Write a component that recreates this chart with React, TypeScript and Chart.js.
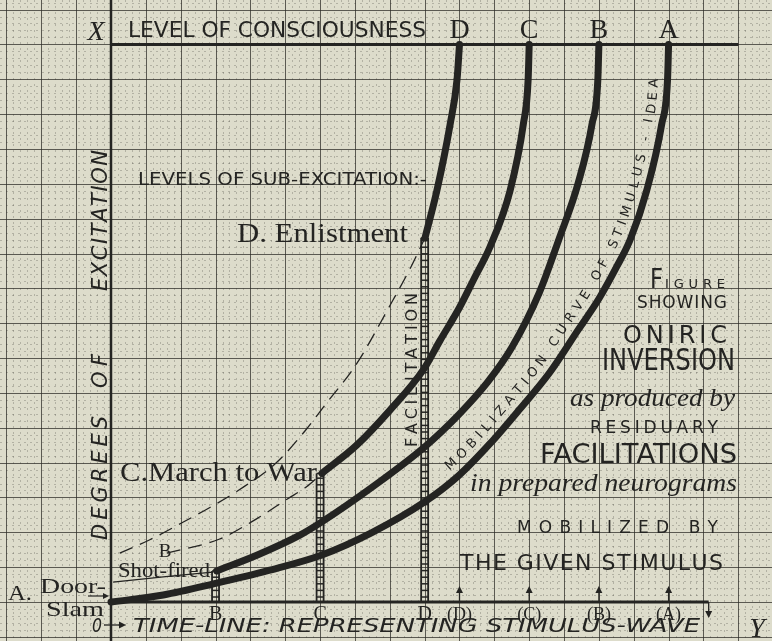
import React, { useEffect, useRef } from "react";
import { Chart, registerables } from "chart.js";

Chart.register(...registerables);

const W = 772;
const H = 641;
const INK = "#242422";
const PAPER = "#dddccb";
const SANS = "'DejaVu Sans', 'Liberation Sans', sans-serif";
const SERIF = "'Liberation Serif', 'DejaVu Serif', serif";

// grid units: one major square of the paper = 1
const xRange = [-3.185, 18.967];
const yRange = [-1.119, 17.274];
const consciousnessLevel = 16;
const topLineEnd = 18;
const timeLineEnd = 17.15;

// mobilization curves (time, excitation)
const curveA = [[0, 0], [1.5, 0.2], [3.03, 0.54], [4.5, 0.9], [6.05, 1.35], [7.5, 2.0], [9.01, 2.88], [10.0, 3.65], [10.88, 4.55], [11.7, 5.5], [12.6, 6.6], [13.4, 7.8], [14.0, 8.7], [14.5, 9.6], [14.9, 10.4], [15.37, 11.8], [15.8, 13.7], [15.97, 15.0], [16.0, 16.0]];
const curveB = [[3.03, 0.89], [4.2, 1.35], [5.42, 1.92], [6.05, 2.3], [7.5, 3.3], [9.01, 4.46], [10.0, 5.4], [10.8, 6.3], [11.5, 7.3], [12.3, 8.9], [12.85, 10.4], [13.4, 12.0], [13.8, 13.7], [13.97, 15.0], [14.0, 16.0]];
const curveC = [[6.05, 3.69], [7.05, 4.5], [8.0, 5.5], [8.96, 6.66], [9.44, 7.5], [10.0, 8.45], [10.4, 9.24], [10.88, 10.2], [11.45, 11.8], [11.83, 13.7], [11.97, 15.0], [12.0, 16.0]];
const curveD = [[9.01, 10.45], [9.35, 11.8], [9.73, 13.7], [9.93, 15.0], [10.0, 16.0]];
// dashed (unfacilitated) continuations
const dashedD = [[0.25, 1.4], [1.1, 1.78], [2.05, 2.28], [2.85, 2.72], [3.65, 3.2], [4.75, 4.0], [5.6, 4.95], [6.1, 5.6], [7.05, 6.84], [8.0, 8.5], [8.6, 9.6], [9.01, 10.45]];
const dashedC = [[1.6, 1.4], [3.1, 1.8], [4.2, 2.4], [5.05, 2.95], [5.6, 3.3], [6.05, 3.69]];
const thinB = [[0.06, 0.57], [1.5, 0.72], [2.93, 0.86]];

const curveNames = ["A", "B", "C", "D"];
const curveEndX = [16, 14, 12, 10];
const facilitationLabels = ["B", "C", "D"];
const facilitationX = [3, 6, 9];
const facilitationTop = [0.89, 3.69, 10.45];
const arrivalLabels = ["(D)", "(C)", "(B)", "(A)"];
const arrivalX = [10, 12, 14, 16];
const pathText = "MOBILIZATION CURVE OF STIMULUS - IDEA";

type TO = { size: number; family?: string; italic?: boolean; bold?: boolean };
const fontStr = (o: TO) => `${o.italic ? "italic " : ""}${o.bold ? "bold " : ""}${o.size}px ${o.family ?? SANS}`;

function fit(ctx: CanvasRenderingContext2D, text: string, x: number, y: number, len: number, o: TO, angle = 0) {
  ctx.save();
  ctx.font = fontStr(o);
  ctx.fillStyle = INK;
  ctx.textBaseline = "alphabetic";
  ctx.textAlign = "left";
  const w = ctx.measureText(text).width;
  ctx.translate(x, y);
  ctx.rotate(angle);
  ctx.scale(len / w, 1);
  ctx.fillText(text, 0, 0);
  ctx.restore();
}

function spread(ctx: CanvasRenderingContext2D, text: string, x: number, y: number, len: number, o: TO, angle = 0) {
  ctx.save();
  ctx.font = fontStr(o);
  ctx.fillStyle = INK;
  ctx.textBaseline = "alphabetic";
  ctx.textAlign = "left";
  const chars = [...text];
  const ws = chars.map((c) => ctx.measureText(c).width);
  const tot = ws.reduce((a, b) => a + b, 0);
  let gap = chars.length > 1 ? (len - tot) / (chars.length - 1) : 0;
  let sc = 1;
  if (gap < 0) { sc = len / tot; gap = 0; }
  ctx.translate(x, y);
  ctx.rotate(angle);
  ctx.scale(sc, 1);
  let cx = 0;
  chars.forEach((c, i) => { ctx.fillText(c, cx, 0); cx += ws[i] + gap / sc; });
  ctx.restore();
}

function center(ctx: CanvasRenderingContext2D, text: string, x: number, y: number, o: TO) {
  ctx.save();
  ctx.font = fontStr(o);
  ctx.fillStyle = INK;
  ctx.textAlign = "center";
  ctx.textBaseline = "alphabetic";
  ctx.fillText(text, x, y);
  ctx.restore();
}

function line(ctx: CanvasRenderingContext2D, x0: number, y0: number, x1: number, y1: number) {
  ctx.beginPath(); ctx.moveTo(x0, y0); ctx.lineTo(x1, y1); ctx.stroke();
}

function samplePath(meta: any) {
  const pts = meta.data as any[];
  const out: { x: number; y: number }[] = [];
  for (let i = 0; i < pts.length - 1; i++) {
    const p0 = pts[i], p1 = pts[i + 1];
    const c1x = p0.cp2x ?? p0.x, c1y = p0.cp2y ?? p0.y, c2x = p1.cp1x ?? p1.x, c2y = p1.cp1y ?? p1.y;
    for (let k = 0; k < 20; k++) {
      const t = k / 20, u = 1 - t;
      out.push({
        x: u * u * u * p0.x + 3 * u * u * t * c1x + 3 * u * t * t * c2x + t * t * t * p1.x,
        y: u * u * u * p0.y + 3 * u * u * t * c1y + 3 * u * t * t * c2y + t * t * t * p1.y,
      });
    }
  }
  const l = pts[pts.length - 1];
  out.push({ x: l.x, y: l.y });
  return out;
}

function textOnPath(ctx: CanvasRenderingContext2D, pts: { x: number; y: number }[], text: string, startX: number, endY: number, offset: number, o: TO) {
  const cum = [0];
  for (let i = 1; i < pts.length; i++) cum.push(cum[i - 1] + Math.hypot(pts[i].x - pts[i - 1].x, pts[i].y - pts[i - 1].y));
  let i0 = pts.findIndex((p) => p.x >= startX);
  let i1 = pts.findIndex((p) => p.y <= endY);
  if (i0 < 0) i0 = 0;
  if (i1 < 0) i1 = pts.length - 1;
  const s0 = cum[i0], s1 = cum[i1];
  const at = (s: number) => {
    let j = 1;
    while (j < cum.length - 1 && cum[j] < s) j++;
    const a = pts[j - 1], b = pts[j];
    const f = (s - cum[j - 1]) / Math.max(1e-6, cum[j] - cum[j - 1]);
    const dx = b.x - a.x, dy = b.y - a.y, d = Math.hypot(dx, dy) || 1;
    return { x: a.x + dx * f, y: a.y + dy * f, ang: Math.atan2(dy, dx), nx: dy / d, ny: -dx / d };
  };
  ctx.save();
  ctx.font = fontStr(o);
  ctx.fillStyle = INK;
  ctx.textAlign = "center";
  ctx.textBaseline = "middle";
  const chars = [...text];
  const ws = chars.map((c) => ctx.measureText(c).width);
  const tot = ws.reduce((a, b) => a + b, 0);
  const gap = (s1 - s0 - tot) / (chars.length - 1);
  let s = s0;
  chars.forEach((c, i) => {
    const p = at(s + ws[i] / 2);
    ctx.save();
    ctx.translate(p.x + p.nx * offset, p.y + p.ny * offset);
    ctx.rotate(p.ang);
    ctx.fillText(c, 0, 0);
    ctx.restore();
    s += ws[i] + gap;
  });
  ctx.restore();
}

const toXY = (a: number[][]) => a.map(([x, y]) => ({ x, y }));

const diagramPlugin = {
  id: "diagram",
  beforeDraw(chart: any) {
    const ctx = chart.ctx as CanvasRenderingContext2D;
    ctx.save();
    ctx.fillStyle = PAPER;
    ctx.fillRect(0, 0, W, H);
    ctx.restore();
  },
  beforeDatasetsDraw(chart: any) {
    const ctx = chart.ctx as CanvasRenderingContext2D;
    const sx = chart.scales.x, sy = chart.scales.y;
    const px = (v: number) => sx.getPixelForValue(v);
    const py = (v: number) => sy.getPixelForValue(v);
    ctx.save();
    // minor grid
    ctx.lineWidth = 1;
    ctx.strokeStyle = "rgba(70,70,60,0.28)";
    ctx.setLineDash([2, 4]);
    for (let i = Math.ceil(xRange[0] * 5); i <= Math.floor(xRange[1] * 5); i++) {
      if (i % 5 === 0) continue;
      const X = Math.round(px(i / 5)) + 0.5;
      line(ctx, X, 0, X, H);
    }
    for (let i = Math.ceil(yRange[0] * 5); i <= Math.floor(yRange[1] * 5); i++) {
      if (i % 5 === 0) continue;
      const Y = Math.round(py(i / 5)) + 0.5;
      line(ctx, 0, Y, W, Y);
    }
    // major grid
    ctx.setLineDash([]);
    ctx.strokeStyle = "rgba(45,45,40,0.75)";
    for (let i = Math.ceil(xRange[0]); i <= Math.floor(xRange[1]); i++) {
      const X = Math.round(px(i)) + 0.5;
      line(ctx, X, 0, X, H);
    }
    for (let i = Math.ceil(yRange[0]); i <= Math.floor(yRange[1]); i++) {
      const Y = Math.round(py(i)) + 0.5;
      line(ctx, 0, Y, W, Y);
    }
    // heavy axes
    ctx.strokeStyle = INK;
    ctx.lineWidth = 2.5;
    line(ctx, px(0), 0, px(0), H);
    ctx.lineWidth = 3;
    line(ctx, px(0), py(consciousnessLevel), px(topLineEnd), py(consciousnessLevel));
    line(ctx, px(0), py(0), px(timeLineEnd), py(0));
    // facilitation ladders
    facilitationX.forEach((fx, i) => {
      const X = px(fx), top = py(facilitationTop[i]), bot = py(0);
      ctx.lineWidth = 1.8;
      line(ctx, X - 3.5, bot, X - 3.5, top);
      line(ctx, X + 3.5, bot, X + 3.5, top);
      ctx.lineWidth = 1.5;
      for (let y = bot - 5; y > top; y -= 6.6) line(ctx, X - 3.5, y, X + 3.5, y);
      line(ctx, X - 3.5, top, X + 3.5, top);
    });
    // arrival arrows on the time line
    ctx.lineWidth = 1.3;
    ctx.fillStyle = INK;
    arrivalX.forEach((ax) => {
      const X = px(ax), b = py(0);
      line(ctx, X, b, X, b - 13);
      ctx.beginPath(); ctx.moveTo(X, b - 16); ctx.lineTo(X - 3.5, b - 9); ctx.lineTo(X + 3.5, b - 9); ctx.closePath(); ctx.fill();
    });
    // end marker (down arrow)
    {
      const X = px(timeLineEnd), b = py(0);
      line(ctx, X, b, X, b + 14);
      ctx.beginPath(); ctx.moveTo(X, b + 16); ctx.lineTo(X - 3.5, b + 9); ctx.lineTo(X + 3.5, b + 9); ctx.closePath(); ctx.fill();
    }
    ctx.restore();
  },
  afterDatasetsDraw(chart: any) {
    const ctx = chart.ctx as CanvasRenderingContext2D;
    const sx = chart.scales.x;
    const px = (v: number) => sx.getPixelForValue(v);
    ctx.save();
    ctx.strokeStyle = INK;
    ctx.fillStyle = INK;

    // header
    center(ctx, "X", 96, 40, { size: 28, family: SERIF, italic: true });
    fit(ctx, "LEVEL OF CONSCIOUSNESS", 128, 37, 298, { size: 22 });
    curveNames.forEach((n, i) => center(ctx, n, px(curveEndX[i]), 38, { size: 28, family: SERIF }));

    // y-axis title
    spread(ctx, "DEGREES", 107, 540, 124, { size: 21, italic: true }, -Math.PI / 2);
    spread(ctx, "OF", 107, 388, 34, { size: 21, italic: true }, -Math.PI / 2);
    spread(ctx, "EXCITATION", 107, 291, 141, { size: 21, italic: true }, -Math.PI / 2);

    // sub-excitation levels
    fit(ctx, "LEVELS OF SUB-EXCITATION:-", 138, 185, 289, { size: 17 });
    fit(ctx, "D. Enlistment", 237, 242, 171, { size: 28, family: SERIF });
    fit(ctx, "C.March to War", 120, 481, 197, { size: 28, family: SERIF });
    center(ctx, "B", 165, 557, { size: 19, family: SERIF });
    fit(ctx, "Shot-fired", 118, 577, 92, { size: 22, family: SERIF });
    fit(ctx, "A.", 8, 600, 24, { size: 20, family: SERIF });
    fit(ctx, "Door-", 40, 593, 66, { size: 22, family: SERIF });
    fit(ctx, "Slam", 46, 616, 58, { size: 22, family: SERIF });
    ctx.lineWidth = 1.2;
    line(ctx, 88, 596, 106, 596);
    ctx.beginPath(); ctx.moveTo(109, 596); ctx.lineTo(103, 593); ctx.lineTo(103, 599); ctx.closePath(); ctx.fill();

    // FACILITATION along D ladder
    spread(ctx, "FACIL", 417, 447, 60, { size: 16 }, -Math.PI / 2);
    spread(ctx, "ITATION", 417, 381, 88, { size: 16 }, -Math.PI / 2);

    // text along mobilization curve A
    const pts = samplePath(chart.getDatasetMeta(0));
    textOnPath(ctx, pts, pathText, 455, 80, 13, { size: 13 });

    // time-line labels
    facilitationLabels.forEach((l, i) => center(ctx, l, px(facilitationX[i]), 620, { size: 20, family: SERIF }));
    arrivalLabels.forEach((l, i) => center(ctx, l, px(arrivalX[i]), 620, { size: 18, family: SERIF }));
    fit(ctx, "0", 92, 632, 10, { size: 19, italic: true });
    ctx.lineWidth = 1.3;
    line(ctx, 104, 625, 122, 625);
    ctx.beginPath(); ctx.moveTo(126, 625); ctx.lineTo(119, 621.5); ctx.lineTo(119, 628.5); ctx.closePath(); ctx.fill();
    fit(ctx, "TIME-LINE: REPRESENTING STIMULUS-WAVE", 133, 632, 567, { size: 20, italic: true });
    center(ctx, "Y", 757, 637, { size: 28, family: SERIF, italic: true });

    // title block
    fit(ctx, "F", 650, 288, 13, { size: 26 });
    spread(ctx, "IGURE", 665, 288, 60, { size: 13 });
    spread(ctx, "SHOWING", 637, 308, 90, { size: 17 });
    spread(ctx, "ONIRIC", 623, 343, 104, { size: 24 });
    fit(ctx, "INVERSION", 602, 370, 133, { size: 31 });
    fit(ctx, "as produced by", 570, 406, 165, { size: 25, family: SERIF, italic: true });
    spread(ctx, "RESIDUARY", 590, 433, 128, { size: 17 });
    fit(ctx, "FACILITATIONS", 540, 463, 197, { size: 27 });
    fit(ctx, "in prepared neurograms", 470, 491, 267, { size: 26, family: SERIF, italic: true });
    spread(ctx, "MOBILIZED BY", 517, 533, 201, { size: 17 });
    spread(ctx, "THE GIVEN STIMULUS", 460, 570, 263, { size: 22 });
    ctx.restore();
  },
};

export default function App() {
  const ref = useRef<HTMLCanvasElement | null>(null);
  useEffect(() => {
    if (!ref.current) return;
    const thick = (data: number[][], label: string) => ({
      label,
      data: toXY(data),
      showLine: true,
      borderColor: INK,
      borderWidth: 7,
      pointRadius: 0,
      cubicInterpolationMode: "monotone" as const,
      borderCapStyle: "round" as const,
      fill: false,
    });
    const thin = (data: number[][], label: string, dash: number[]) => ({
      label,
      data: toXY(data),
      showLine: true,
      borderColor: INK,
      borderWidth: 1.3,
      borderDash: dash,
      pointRadius: 0,
      cubicInterpolationMode: "monotone" as const,
      fill: false,
    });
    const chart = new Chart(ref.current, {
      type: "scatter",
      data: {
        datasets: [
          thick(curveA, "A"),
          thick(curveB, "B"),
          thick(curveC, "C"),
          thick(curveD, "D"),
          thin(dashedD, "D (unfacilitated)", [14, 8]),
          thin(dashedC, "C (unfacilitated)", [14, 8]),
          thin(thinB, "B (unfacilitated)", []),
        ] as any,
      },
      options: {
        responsive: false,
        animation: false,
        devicePixelRatio: 1,
        events: [],
        layout: { padding: 0 },
        plugins: { legend: { display: false }, tooltip: { enabled: false } },
        scales: {
          x: { type: "linear", display: false, min: xRange[0], max: xRange[1] },
          y: { type: "linear", display: false, min: yRange[0], max: yRange[1] },
        },
      },
      plugins: [diagramPlugin],
    });
    return () => chart.destroy();
  }, []);
  return (
    <div style={{ position: "fixed", left: 0, top: 0, width: W, height: H, background: PAPER }}>
      <canvas ref={ref} width={W} height={H} style={{ display: "block", width: W, height: H }} />
    </div>
  );
}
